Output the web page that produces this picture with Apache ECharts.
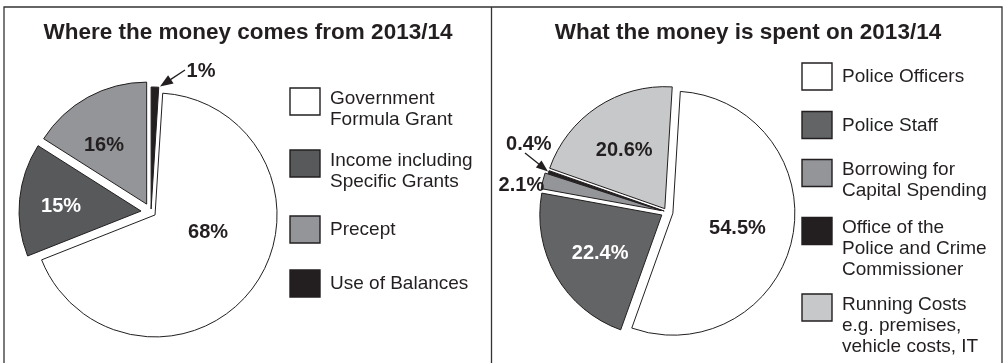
<!DOCTYPE html>
<html>
<head>
<meta charset="utf-8">
<script src="https://cdn.jsdelivr.net/npm/echarts@6/dist/echarts.min.js"></script>
<style>
html,body{margin:0;padding:0;background:#ffffff;}
#chart{width:1006px;height:363px;}
</style>
</head>
<body>
<div id="chart"></div>
<script>
// ---------- data ----------
const incomeTitle = 'Where the money comes from 2013/14';
const incomeNames = ['Government\nFormula Grant', 'Income including\nSpecific Grants', 'Precept', 'Use of Balances'];
const incomeValues = [68, 15, 16, 1];

const spendTitle = 'What the money is spent on 2013/14';
const spendNames = ['Police Officers', 'Police Staff', 'Borrowing for\nCapital Spending', 'Office of the\nPolice and Crime\nCommissioner', 'Running Costs\ne.g. premises,\nvehicle costs, IT'];
const spendValues = [54.5, 22.4, 2.1, 0.4, 20.6];

// ---------- styles ----------
const FONT = '"Liberation Sans", Arial, Helvetica, sans-serif';
const INK = '#231f20';
const incomeColors = ['#ffffff', '#58595b', '#939598', '#231f20'];
const incomeLabelColors = [INK, '#ffffff', INK, INK];
const spendColors = ['#ffffff', '#636466', '#939598', '#231f20', '#c7c8ca'];
const spendLabelColors = [INK, '#ffffff', INK, INK, INK];

// explode distance of each slice, and label nudges
const incomeExplode = [5, 10, 9, 3];
const incomeLabelShift = [[1.3, -20.1], [-16.3, 1.4], [-11.9, -3.0], [47.9, -74]];
const spendExplode = [6, 6, 6, 3, 4];
const spendLabelShift = [[1.9, 2.5], [-6.2, 6.3], [-77.7, -9.6], [-74.7, -46.3], [-5.2, -4.7]];

function pieSlices(values, names, colors, labelColors, explode, shifts, center, startAngle) {
  return values.map(function (v, i) {
    return {
      type: 'pie',
      center: center,
      radius: 122,
      startAngle: startAngle,
      clockwise: true,
      selectedMode: 'multiple',
      selectedOffset: explode[i],
      avoidLabelOverlap: false,
      animation: false,
      silent: true,
      emphasis: { disabled: true },
      labelLine: { show: false },
      labelLayout: { dx: shifts[i][0], dy: shifts[i][1] },
      data: values.map(function (w, j) {
        if (j === i) {
          return {
            value: w, name: names[j], selected: true,
            itemStyle: { color: colors[j], borderColor: INK, borderWidth: 1 },
            select: { itemStyle: { color: colors[j], borderColor: INK, borderWidth: 1 } },
            label: {
              show: true, position: 'inside', formatter: '{c}%',
              color: labelColors[j], fontSize: 20, fontWeight: 'bold', fontFamily: FONT
            }
          };
        }
        return {
          value: w, name: names[j],
          itemStyle: { color: 'rgba(0,0,0,0)', borderWidth: 0 },
          label: { show: false }
        };
      })
    };
  });
}

function legendGraphics(names, colors, x, tops) {
  const els = [];
  names.forEach(function (n, i) {
    const multi = n.indexOf('\n') >= 0;
    els.push({
      type: 'rect', silent: true,
      shape: { x: x, y: tops[i], width: 30, height: 27 },
      style: { fill: colors[i], stroke: INK, lineWidth: 1.4 }
    });
    els.push({
      type: 'text', silent: true,
      x: x + 40, y: multi ? tops[i] : tops[i] + 3.5,
      style: {
        text: n, fill: INK, fontSize: 19, fontFamily: FONT, lineHeight: 21,
        align: 'left', verticalAlign: 'top'
      }
    });
  });
  return els;
}

function arrow(tail, tip, headLen, headHalf) {
  const dx = tip[0] - tail[0], dy = tip[1] - tail[1];
  const L = Math.sqrt(dx * dx + dy * dy);
  const ux = dx / L, uy = dy / L;
  const bx = tip[0] - ux * headLen, by = tip[1] - uy * headLen;
  return [
    { type: 'line', silent: true, shape: { x1: tail[0], y1: tail[1], x2: bx + ux, y2: by + uy }, style: { stroke: INK, lineWidth: 1.3 } },
    { type: 'polygon', silent: true, shape: { points: [[tip[0], tip[1]], [bx - uy * headHalf, by + ux * headHalf], [bx + uy * headHalf, by - ux * headHalf]] }, style: { fill: INK } }
  ];
}

const chart = echarts.init(document.getElementById('chart'), null, { renderer: 'canvas' });

const graphics = [
  { type: 'rect', silent: true, shape: { x: 4, y: 7, width: 998, height: 400 }, style: { fill: 'none', stroke: '#333333', lineWidth: 1.3 } },
  { type: 'line', silent: true, shape: { x1: 491.5, y1: 7, x2: 491.5, y2: 407 }, style: { stroke: '#333333', lineWidth: 1.3 } }
]
  .concat(legendGraphics(incomeNames, incomeColors, 290, [88, 150, 216, 270]))
  .concat(legendGraphics(spendNames, spendColors, 802, [63, 111.5, 159.5, 217.5, 294]))
  .concat(arrow([185, 70], [160, 86.5], 13, 5))
  .concat(arrow([525, 153], [548, 171.5], 12, 4.5));

chart.setOption({
  backgroundColor: '#ffffff',
  animation: false,
  title: [
    { text: incomeTitle, left: 248, top: 21, textAlign: 'center', padding: 0,
      textStyle: { fontSize: 22.5, fontWeight: 'bold', color: INK, fontFamily: FONT } },
    { text: spendTitle, left: 748, top: 21, textAlign: 'center', padding: 0,
      textStyle: { fontSize: 22.5, fontWeight: 'bold', color: INK, fontFamily: FONT } }
  ],
  graphic: graphics,
  series: pieSlices(incomeValues, incomeNames, incomeColors, incomeLabelColors, incomeExplode, incomeLabelShift, [151, 212], 86.4)
    .concat(pieSlices(spendValues, spendNames, spendColors, spendLabelColors, spendExplode, spendLabelShift, [667, 212], 86.5))
});
</script>
</body>
</html>
